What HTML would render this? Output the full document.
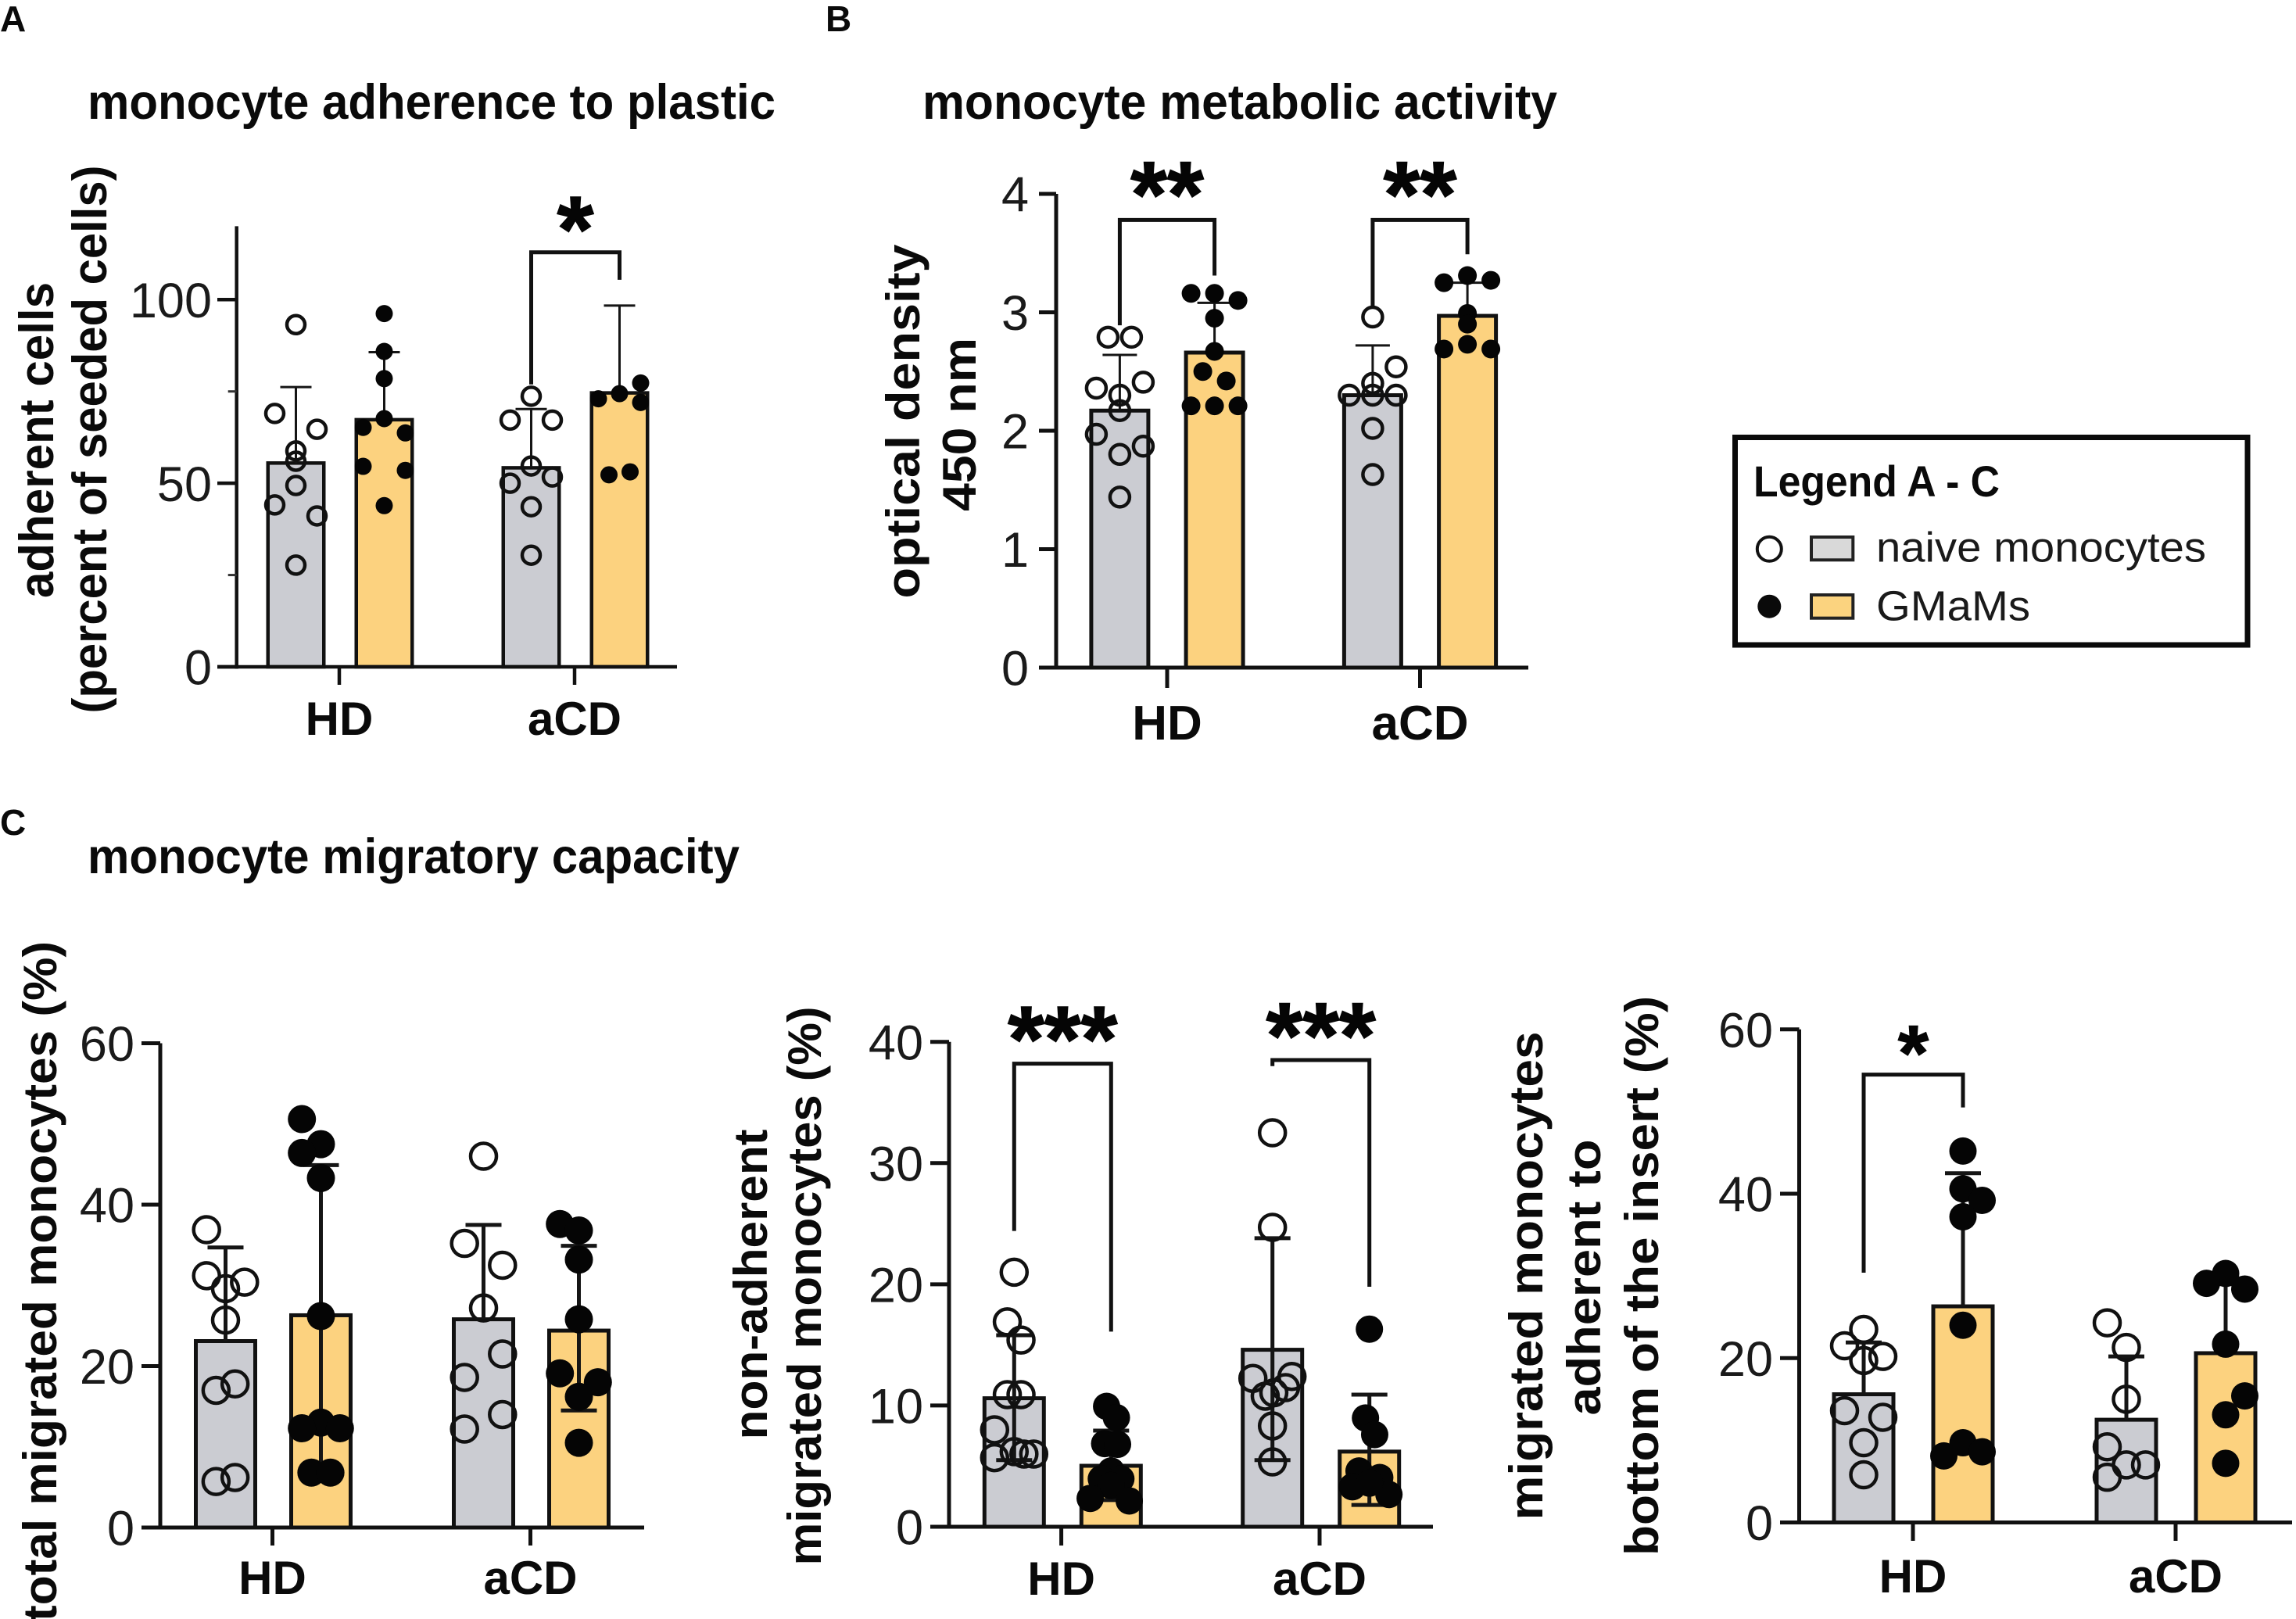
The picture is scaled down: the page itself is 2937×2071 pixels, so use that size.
<!DOCTYPE html>
<html lang="en">
<head>
<meta charset="utf-8">
<title>Monocyte adherence, metabolic activity and migratory capacity</title>
<style>
html,body{margin:0;padding:0;background:#fff;}
svg{display:block;font-family:"Liberation Sans",sans-serif;}
.t{font-weight:700;fill:#0a0a0a;}
.r{fill:#1a1a1a;}
</style>
</head>
<body>
<svg id="fig" xmlns="http://www.w3.org/2000/svg" width="2937" height="2071" viewBox="0 0 2937 2071">
  <rect width="2937" height="2071" fill="#fff"/>

  <text class="t" x="0" y="40" font-size="46">A</text>
  <text class="t" x="1056" y="40" font-size="46">B</text>
  <text class="t" x="0" y="1068" font-size="46">C</text>

  <text class="t" x="112" y="152" font-size="63" textLength="880" lengthAdjust="spacingAndGlyphs">monocyte adherence to plastic</text>
  <text class="t" x="1180" y="152" font-size="63" textLength="812" lengthAdjust="spacingAndGlyphs">monocyte metabolic activity</text>
  <text class="t" x="112" y="1117" font-size="63" textLength="834" lengthAdjust="spacingAndGlyphs">monocyte migratory capacity</text>

  <text class="t" text-anchor="middle" font-size="62" transform="translate(68,563) rotate(-90)" textLength="404" lengthAdjust="spacingAndGlyphs">adherent cells</text>
  <text class="t" text-anchor="middle" font-size="62" transform="translate(136,562) rotate(-90)" textLength="701" lengthAdjust="spacingAndGlyphs">(percent of seeded cells)</text>

  <text class="t" text-anchor="middle" font-size="60" transform="translate(1176,539) rotate(-90)" textLength="453" lengthAdjust="spacingAndGlyphs">optical density</text>
  <text class="t" text-anchor="middle" font-size="60" transform="translate(1248,543) rotate(-90)" textLength="222" lengthAdjust="spacingAndGlyphs">450 nm</text>

  <text class="t" text-anchor="middle" font-size="60" transform="translate(72,1639) rotate(-90)" textLength="870" lengthAdjust="spacingAndGlyphs">total migrated monocytes (%)</text>

  <text class="t" text-anchor="middle" font-size="60" transform="translate(981,1643) rotate(-90)" textLength="397" lengthAdjust="spacingAndGlyphs">non-adherent</text>
  <text class="t" text-anchor="middle" font-size="60" transform="translate(1050,1645) rotate(-90)" textLength="715" lengthAdjust="spacingAndGlyphs">migrated monocytes (%)</text>

  <text class="t" text-anchor="middle" font-size="60" transform="translate(1973,1632) rotate(-90)" textLength="625" lengthAdjust="spacingAndGlyphs">migrated monocytes</text>
  <text class="t" text-anchor="middle" font-size="60" transform="translate(2047,1634) rotate(-90)" textLength="353" lengthAdjust="spacingAndGlyphs">adherent to</text>
  <text class="t" text-anchor="middle" font-size="60" transform="translate(2121,1632) rotate(-90)" textLength="716" lengthAdjust="spacingAndGlyphs">bottom of the insert (%)</text>

  <g>
    <rect x="2219.5" y="559.5" width="655.5" height="265.5" fill="#fff" stroke="#0a0a0a" stroke-width="7"/>
    <text class="t" x="2243" y="635" font-size="56" textLength="315" lengthAdjust="spacingAndGlyphs">Legend A - C</text>
    <circle cx="2263.3" cy="702.3" r="15.5" fill="#fff" stroke="#111" stroke-width="4"/>
    <rect x="2317" y="687" width="53.3" height="29.3" fill="#d9d9d9" stroke="#222" stroke-width="4"/>
    <text class="r" x="2400" y="718.3" font-size="54" textLength="422" lengthAdjust="spacingAndGlyphs">naive monocytes</text>
    <circle cx="2263.3" cy="775.7" r="15" fill="#0a0a0a"/>
    <rect x="2317" y="761" width="53.3" height="29.7" fill="#fbd37f" stroke="#222" stroke-width="4"/>
    <text class="r" x="2400" y="793.5" font-size="54" textLength="197" lengthAdjust="spacingAndGlyphs">GMaMs</text>
  </g>
</svg>
<script>
const categories = ['HD', 'aCD'];

// Panel A: adherent cells
const aTicks = [0, 50, 100];
const aMinorTicks = [25, 75];
const aMeans = [55.5, 67.3, 54.2, 74.6];
const aErrHigh = [76.2, 85.7, 70.2, 98.4];
const aErrLow = [null, null, null, null];
const aHdNaive = [93.2, 69, 64.7, 58.8, 56, 49.4, 44.1, 41.1, 27.7];
const aHdNaiveCols = [0, -1, 1, 0, 0, 0, -1, 1, 0];
const aHdGmam = [96.2, 85.9, 78.5, 67.6, 65.2, 63.7, 54.6, 53.5, 43.9];
const aHdGmamCols = [0, 0, 0, 0, -1, 1, -1, 1, 0];
const aCdNaiveA = [73.7, 67.2, 67.2, 54.7, 51.7, 50, 43.6, 30.4];
const aCdNaiveACols = [0, -1, 1, 0, 1, -1, 0, 0];
const aCdGmamA = [77.3, 74.4, 73, 72, 52.3, 53.1];
const aCdGmamACols = [1, 0, -1, 1, -0.5, 0.5];
const aBracketGroups = [1];
const aBracketLeft = [76.9];
const aBracketTop = [112.9];
const aBracketRight = [105.4];
const aStars = ['*'];

// Panel B: optical density
const bTicks = [0, 1, 2, 3, 4];
const bMeans = [2.17, 2.66, 2.3, 2.97];
const bErrHigh = [2.64, 3.08, 2.72, 3.25];
const bErrLow = [null, null, null, null];
const bHdNaive = [2.79, 2.79, 2.41, 2.36, 2.3, 2.17, 1.97, 1.87, 1.8, 1.44];
const bHdNaiveCols = [-0.5, 0.5, 1, -1, 0, 0, -1, 1, 0, 0];
const bHdGmam = [3.16, 3.16, 3.1, 2.95, 2.67, 2.5, 2.42, 2.21, 2.21, 2.21];
const bHdGmamCols = [-1, 0, 1, 0, 0, -0.5, 0.5, -1, 0, 1];
const bCdNaive = [2.96, 2.54, 2.4, 2.3, 2.3, 2.3, 2.02, 1.63];
const bCdNaiveCols = [0, 1, 0, -1, 1, 0, 0, 0];
const bCdGmam = [3.25, 3.31, 3.27, 2.99, 2.9, 2.69, 2.69, 2.73];
const bCdGmamCols = [-1, 0, 1, 0, 0, -1, 1, 0];
const bBracketGroups = [0, 1];
const bBracketLeft = [2.89, 3.05];
const bBracketTop = [3.78, 3.78];
const bBracketRight = [3.31, 3.49];
const bStars = ['**', '**'];

// Panel C, left: total migrated
const c1Ticks = [0, 20, 40, 60];
const c1Means = [23.1, 26.3, 25.8, 24.4];
const c1ErrHigh = [34.7, 44.9, 37.5, 34.9];
const c1ErrLow = [null, 7.7, null, 14.5];
const c1HdNaive = [36.9, 31.2, 30.4, 29.6, 25.7, 17.8, 17, 6.2, 5.7];
const c1HdNaiveCols = [-1, -1, 1, 0, 0, 0.5, -0.5, 0.5, -0.5];
const c1HdGmam = [50.6, 47.5, 46.4, 43.3, 26.2, 13, 12.3, 12.3, 6.8, 6.8];
const c1HdGmamCols = [-1, 0, -1, 0, 0, 0, -1, 1, -0.5, 0.5];
const c1CdNaive = [46, 35.2, 32.5, 27.2, 21.5, 18.6, 14, 12.2];
const c1CdNaiveCols = [0, -1, 1, 0, 1, -1, 1, -1];
const c1CdGmam = [37.6, 36.8, 33.2, 25.8, 19.1, 18, 16.2, 10.5];
const c1CdGmamCols = [-1, 0, 0, 0, -1, 1, 0, 0];
const c1BracketGroups = [];
const c1BracketLeft = [];
const c1BracketTop = [];
const c1BracketRight = [];
const c1Stars = [];

// Panel C, middle: non-adherent migrated
const c2Ticks = [0, 10, 20, 30, 40];
const c2Means = [10.6, 5.03, 14.6, 6.2];
const c2ErrHigh = [15.8, 7.93, 23.8, 10.9];
const c2ErrLow = [5.5, 2.2, 5.5, 1.8];
const c2HdNaive = [21, 16.9, 15.4, 10.9, 10.9, 8, 6.2, 6, 5.7, 6];
const c2HdNaiveCols = [0, -0.35, 0.35, -0.35, 0.35, -1, 0, 1, -1, 0.5];
const c2HdGmam = [9.93, 9, 6.86, 6.8, 4.6, 3.95, 3.95, 3.4, 2.34, 2.13];
const c2HdGmamCols = [-0.23, 0.27, -0.33, 0.33, 0, -0.5, 0.5, 0, -1.07, 0.93];
const c2CdNaive = [32.5, 24.7, 12.24, 12.4, 10.77, 11.48, 11.05, 8.32, 5.35];
const c2CdNaiveCols = [0, 0, -1, 1, -0.37, 0.67, 0.07, 0, 0];
const c2CdGmam = [16.3, 8.97, 7.6, 4.6, 4.06, 3.3, 2.66, 3.6];
const c2CdGmamCols = [0, -0.2, 0.27, -0.53, 0.53, -0.87, 1, 0];
const c2BracketGroups = [0, 1];
const c2BracketLeft = [24.4, 38];
const c2BracketTop = [38.2, 38.5];
const c2BracketRight = [16.1, 19.8];
const c2Stars = ['***', '***'];

// Panel C, right: adherent to insert
const c3Ticks = [0, 20, 40, 60];
const c3Means = [15.6, 26.3, 12.5, 20.6];
const c3ErrHigh = [21.9, 42.5, 20.2, 29];
const c3ErrLow = [null, null, null, null];
const c3HdNaive = [23.5, 21.5, 20.2, 19.7, 13.6, 12.8, 9.7, 5.8];
const c3HdNaiveCols = [0, -1, 1, 0, -1, 1, 0, 0];
const c3HdGmam = [45.2, 40.6, 39.2, 37.2, 24, 9.7, 8.1, 8.6];
const c3HdGmamCols = [0, 0, 1, 0, 0, 0, -1, 1];
const c3CdNaive = [24.3, 21.3, 15, 9.2, 7, 7, 5.5];
const c3CdNaiveCols = [-1, 0, 0, -1, 0, 1, -1];
const c3CdGmam = [30.3, 29.1, 28.4, 21.7, 15.4, 13.1, 7.2];
const c3CdGmamCols = [0, -1, 1, 0, 1, 0, 0];
const c3BracketGroups = [0];
const c3BracketLeft = [30.4];
const c3BracketTop = [54.5];
const c3BracketRight = [50.5];
const c3Stars = ['*'];

const NS = 'http://www.w3.org/2000/svg';
const fig = document.getElementById('fig');
const BAR_FILLS = ['#cbccd2', '#fcd27f'];

function shape(parent, tag, attrs, txt) {
  const el = document.createElementNS(NS, tag);
  Object.keys(attrs).forEach(function (k) { el.setAttribute(k, attrs[k]); });
  if (txt !== undefined) el.textContent = txt;
  parent.appendChild(el);
  return el;
}

function drawPanel(p) {
  const group = document.createElementNS(NS, 'g');
  
  
  fig.appendChild(group);

  const yPx = function (v) { return p.y0 - (v - 0) * (p.y0 - p.yMaxPx) / p.yMax; };
  const barCx = function (g, s) { return p.catX[g] + p.shift + (s === 0 ? -p.barOff : p.barOff); };

  // bars
  p.means.forEach(function (m, i) {
    const g = Math.floor(i / 2), s = i % 2;
    const sw = p.barStroke;
    const bar = shape(group, 'rect', {
      x: barCx(g, s) - p.barW / 2 + sw / 2,
      y: yPx(m),
      width: p.barW - sw,
      height: p.y0 - yPx(m),
      fill: BAR_FILLS[s],
      stroke: '#111',
      'stroke-width': sw
    });
    
    
  });

  // error bars
  p.means.forEach(function (m, i) {
    const g = Math.floor(i / 2), s = i % 2;
    const cx = barCx(g, s);
    const hi = p.errHigh[i], lo = p.errLow[i];
    const bottom = lo === null ? m : lo;
    const stem = shape(group, 'line', { x1: cx, x2: cx, y1: yPx(hi), y2: yPx(bottom), stroke: '#151515', 'stroke-width': p.errStroke });
    
    
    const capHi = shape(group, 'line', { x1: cx - p.capW, x2: cx + p.capW, y1: yPx(hi), y2: yPx(hi), stroke: '#151515', 'stroke-width': p.errStroke });
    
    
    if (lo !== null) {
      const capLo = shape(group, 'line', { x1: cx - p.capW, x2: cx + p.capW, y1: yPx(lo), y2: yPx(lo), stroke: '#151515', 'stroke-width': p.errStroke });
      
      
    }
  });

  // points
  p.points.forEach(function (vals, i) {
    const g = Math.floor(i / 2), s = i % 2;
    const cols = p.cols[i];
    vals.forEach(function (v, k) {
      const attrs = { cx: barCx(g, s) + cols[k] * p.colStep, cy: yPx(v) };
      if (s === 0) {
        attrs.r = p.rOpen; attrs.fill = 'none'; attrs.stroke = '#111'; attrs['stroke-width'] = p.ptStroke;
      } else {
        attrs.r = p.rFill; attrs.fill = '#050505';
      }
      const pt = shape(group, 'circle', attrs);
      
      
    });
  });

  // axes
  const yAxis = shape(group, 'line', { x1: p.axisX, x2: p.axisX, y1: yPx(p.yTop), y2: p.y0 + 2.5, stroke: '#111', 'stroke-width': p.axisStroke });
  
  
  const xAxis = shape(group, 'line', { x1: p.tickLeft, x2: p.axisRight, y1: p.y0, y2: p.y0, stroke: '#111', 'stroke-width': p.axisStroke });
  
  

  p.ticks.forEach(function (t) {
    const tick = shape(group, 'line', { x1: p.tickLeft, x2: p.axisX, y1: yPx(t), y2: yPx(t), stroke: '#111', 'stroke-width': p.axisStroke });
    
    
    const label = shape(group, 'text', { x: p.labelRight, y: yPx(t) + p.tickFs * 0.36, 'font-size': p.tickFs, 'text-anchor': 'end', fill: '#1a1a1a' }, String(t));
    
    
  });
  (p.minor || []).forEach(function (t) {
    const tick = shape(group, 'line', { x1: p.axisX - 11, x2: p.axisX, y1: yPx(t), y2: yPx(t), stroke: '#333', 'stroke-width': 3 });
    
    
  });

  categories.forEach(function (c, g) {
    const tick = shape(group, 'line', { x1: p.catX[g], x2: p.catX[g], y1: p.y0, y2: p.tickBottom, stroke: '#111', 'stroke-width': p.axisStroke });
    
    
    const label = shape(group, 'text', { x: p.catX[g], y: p.catBase, 'font-size': p.catFs, 'font-weight': 700, 'text-anchor': 'middle', fill: '#0a0a0a' }, c);
    
    
  });

  // significance brackets
  p.brGroups.forEach(function (g, i) {
    const xl = barCx(g, 0), xr = barCx(g, 1);
    const d = 'M' + xl + ' ' + yPx(p.brLeft[i]) + ' V' + yPx(p.brTop[i]) + ' H' + xr + ' V' + yPx(p.brRight[i]);
    const br = shape(group, 'path', { d: d, fill: 'none', stroke: '#111', 'stroke-width': p.brStroke });
    
    
    const star = shape(group, 'text', {
      x: (xl + xr) / 2,
      y: yPx(p.brTop[i]) - p.starGap + p.starFs * 0.49,
      'font-size': p.starFs,
      'font-weight': 700,
      'text-anchor': 'middle',
      fill: '#050505',
      stroke: '#050505',
      'stroke-width': 1.5
    }, p.stars[i]);
    
    
  });
}

drawPanel({
  name: 'panel-a-adherence', y0: 853, yMaxPx: 383.3, yMax: 100, yTop: 120,
  axisX: 302.7, tickLeft: 278, axisRight: 866, tickBottom: 876, labelRight: 271, tickFs: 63,
  catX: [434, 735], shift: 1, barOff: 56.5, barW: 76, barStroke: 4.5, errStroke: 3, capW: 20, axisStroke: 4.5,
  catBase: 940, catFs: 60, colStep: 27, rOpen: 11.5, rFill: 11, ptStroke: 4.5, brStroke: 5, starFs: 120, starGap: 47,
  ticks: aTicks, minor: aMinorTicks, means: aMeans, errHigh: aErrHigh, errLow: aErrLow,
  points: [aHdNaive, aHdGmam, aCdNaiveA, aCdGmamA], cols: [aHdNaiveCols, aHdGmamCols, aCdNaiveACols, aCdGmamACols],
  brGroups: aBracketGroups, brLeft: aBracketLeft, brTop: aBracketTop, brRight: aBracketRight, stars: aStars
});

drawPanel({
  name: 'panel-b-metabolic', y0: 854, yMaxPx: 248, yMax: 4, yTop: 4,
  axisX: 1351, tickLeft: 1329, axisRight: 1955, tickBottom: 880, labelRight: 1316, tickFs: 63,
  catX: [1493, 1816.5], shift: 0, barOff: 60.6, barW: 78, barStroke: 5, errStroke: 3, capW: 22, axisStroke: 5,
  catBase: 946, catFs: 62, colStep: 30, rOpen: 12.5, rFill: 12, ptStroke: 4.5, brStroke: 5, starFs: 120, starGap: 50,
  ticks: bTicks, minor: [], means: bMeans, errHigh: bErrHigh, errLow: bErrLow,
  points: [bHdNaive, bHdGmam, bCdNaive, bCdGmam], cols: [bHdNaiveCols, bHdGmamCols, bCdNaiveCols, bCdGmamCols],
  brGroups: bBracketGroups, brLeft: bBracketLeft, brTop: bBracketTop, brRight: bBracketRight, stars: bStars
});

drawPanel({
  name: 'panel-c-total-migrated', y0: 1954, yMaxPx: 1334.5, yMax: 60, yTop: 60,
  axisX: 205, tickLeft: 181, axisRight: 824, tickBottom: 1977, labelRight: 172, tickFs: 63,
  catX: [348.5, 678.5], shift: 1, barOff: 61, barW: 81, barStroke: 5, errStroke: 5, capW: 23, axisStroke: 5,
  catBase: 2039, catFs: 60, colStep: 24.3, rOpen: 16.5, rFill: 18, ptStroke: 4.5, brStroke: 5, starFs: 120, starGap: 49,
  ticks: c1Ticks, minor: [], means: c1Means, errHigh: c1ErrHigh, errLow: c1ErrLow,
  points: [c1HdNaive, c1HdGmam, c1CdNaive, c1CdGmam], cols: [c1HdNaiveCols, c1HdGmamCols, c1CdNaiveCols, c1CdGmamCols],
  brGroups: c1BracketGroups, brLeft: c1BracketLeft, brTop: c1BracketTop, brRight: c1BracketRight, stars: c1Stars
});

drawPanel({
  name: 'panel-c-non-adherent', y0: 1953, yMaxPx: 1332.7, yMax: 40, yTop: 40,
  axisX: 1214, tickLeft: 1190, axisRight: 1833, tickBottom: 1977, labelRight: 1181, tickFs: 63,
  catX: [1357.6, 1688], shift: 1.7, barOff: 62, barW: 81, barStroke: 5, errStroke: 5, capW: 23, axisStroke: 5,
  catBase: 2040, catFs: 60, colStep: 25, rOpen: 16.5, rFill: 17.5, ptStroke: 4.5, brStroke: 5, starFs: 120, starGap: 49,
  ticks: c2Ticks, minor: [], means: c2Means, errHigh: c2ErrHigh, errLow: c2ErrLow,
  points: [c2HdNaive, c2HdGmam, c2CdNaive, c2CdGmam], cols: [c2HdNaiveCols, c2HdGmamCols, c2CdNaiveCols, c2CdGmamCols],
  brGroups: c2BracketGroups, brLeft: c2BracketLeft, brTop: c2BracketTop, brRight: c2BracketRight, stars: c2Stars
});

drawPanel({
  name: 'panel-c-adherent-insert', y0: 1947.5, yMaxPx: 1316.8, yMax: 60, yTop: 60,
  axisX: 2301.5, tickLeft: 2277, axisRight: 2932, tickBottom: 1971, labelRight: 2268, tickFs: 63,
  catX: [2447, 2783], shift: 0.5, barOff: 63.5, barW: 81, barStroke: 5, errStroke: 5, capW: 23, axisStroke: 5,
  catBase: 2037, catFs: 60, colStep: 24.5, rOpen: 16.5, rFill: 17.5, ptStroke: 4.5, brStroke: 5, starFs: 100, starGap: 42,
  ticks: c3Ticks, minor: [], means: c3Means, errHigh: c3ErrHigh, errLow: c3ErrLow,
  points: [c3HdNaive, c3HdGmam, c3CdNaive, c3CdGmam], cols: [c3HdNaiveCols, c3HdGmamCols, c3CdNaiveCols, c3CdGmamCols],
  brGroups: c3BracketGroups, brLeft: c3BracketLeft, brTop: c3BracketTop, brRight: c3BracketRight, stars: c3Stars
});
</script>
</body>
</html>
